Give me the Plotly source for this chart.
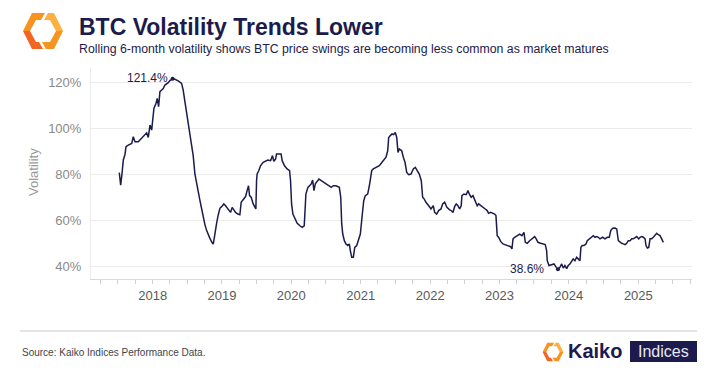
import plotly.graph_objects as go
import pandas as pd

# ---------------- data ----------------
# time as decimal years, volatility in %
t_years = [
    2017.519, 2017.539, 2017.558, 2017.577, 2017.601, 2017.616, 2017.649, 2017.698, 2017.721, 2017.745,
    2017.793, 2017.842, 2017.889, 2017.914, 2017.937, 2017.962, 2017.986, 2018.000, 2018.019, 2018.048,
    2018.066, 2018.086, 2018.105, 2018.130, 2018.153, 2018.177, 2018.202, 2018.225, 2018.249, 2018.288,
    2018.321, 2018.369, 2018.418, 2018.441, 2018.466, 2018.490, 2018.513, 2018.538, 2018.562, 2018.585,
    2018.610, 2018.634, 2018.657, 2018.682, 2018.706, 2018.729, 2018.754, 2018.778, 2018.802, 2018.826,
    2018.859, 2018.874, 2018.884, 2018.898, 2018.923, 2018.946, 2018.970, 2018.995,
    2019.027, 2019.052, 2019.075, 2019.099, 2019.124, 2019.147, 2019.172, 2019.196, 2019.229, 2019.258,
    2019.277, 2019.306, 2019.340, 2019.363, 2019.383, 2019.398, 2019.421, 2019.450, 2019.474, 2019.489,
    2019.499, 2019.507, 2019.532, 2019.556, 2019.594, 2019.629, 2019.662, 2019.701, 2019.729, 2019.748,
    2019.773, 2019.787, 2019.820, 2019.853, 2019.868, 2019.902, 2019.940, 2019.975, 2019.989,
    2020.004, 2020.023, 2020.048, 2020.085, 2020.124, 2020.157, 2020.186, 2020.196, 2020.210, 2020.239,
    2020.268, 2020.287, 2020.307, 2020.326, 2020.345, 2020.373, 2020.398, 2020.431, 2020.470, 2020.509,
    2020.542, 2020.575, 2020.604, 2020.643, 2020.691, 2020.711, 2020.725, 2020.740, 2020.763, 2020.787,
    2020.812, 2020.835, 2020.849, 2020.869, 2020.892, 2020.913, 2020.941, 2020.970, 2020.993,
    2021.017, 2021.042, 2021.065, 2021.099, 2021.123, 2021.157, 2021.180, 2021.219, 2021.267, 2021.306,
    2021.339, 2021.363, 2021.388, 2021.402, 2021.425, 2021.450, 2021.474, 2021.497, 2021.518, 2021.536,
    2021.555, 2021.590, 2021.613, 2021.637, 2021.662, 2021.691, 2021.724, 2021.757, 2021.786, 2021.814,
    2021.843, 2021.872, 2021.892, 2021.915, 2021.940, 2021.979,
    2022.012, 2022.045, 2022.065, 2022.094, 2022.123, 2022.156, 2022.180, 2022.209, 2022.242, 2022.281,
    2022.304, 2022.329, 2022.353, 2022.376, 2022.401, 2022.425, 2022.448, 2022.458, 2022.487, 2022.520,
    2022.545, 2022.569, 2022.592, 2022.617, 2022.642, 2022.679, 2022.699, 2022.728, 2022.761, 2022.794,
    2022.823, 2022.843, 2022.872, 2022.905, 2022.930, 2022.949, 2022.959, 2022.967, 2022.987,
    2023.017, 2023.050, 2023.084, 2023.123, 2023.161, 2023.180, 2023.195, 2023.219, 2023.257, 2023.291,
    2023.324, 2023.353, 2023.372, 2023.401, 2023.435, 2023.469, 2023.507, 2023.530, 2023.555, 2023.594,
    2023.627, 2023.660, 2023.680, 2023.689, 2023.714, 2023.747, 2023.786, 2023.819, 2023.843, 2023.872,
    2023.897, 2023.920, 2023.944, 2023.969, 2023.991,
    2024.016, 2024.040, 2024.063, 2024.088, 2024.112, 2024.136, 2024.160, 2024.174, 2024.193, 2024.218,
    2024.247, 2024.265, 2024.294, 2024.329, 2024.352, 2024.376, 2024.401, 2024.424, 2024.448, 2024.487,
    2024.520, 2024.554, 2024.582, 2024.603, 2024.631, 2024.665, 2024.689, 2024.712, 2024.737, 2024.761,
    2024.784, 2024.809, 2024.833, 2024.856, 2024.881, 2024.905, 2024.928, 2024.953, 2024.977,
    2025.006, 2025.025, 2025.049, 2025.072, 2025.097, 2025.111, 2025.130, 2025.150, 2025.169, 2025.193,
    2025.216, 2025.241, 2025.265, 2025.288, 2025.313, 2025.337, 2025.360,
]
vol_pct = [
    80.6, 75.2, 80.0, 86.1, 88.5, 91.9, 92.6, 93.3, 96.2, 94.0,
    94.0, 95.5, 97.4, 97.9, 95.9, 101.3, 99.1, 104.9, 108.6, 110.7,
    112.9, 109.3, 115.8, 116.5, 117.2, 118.7, 119.1, 119.7, 120.6, 121.4,
    121.2, 120.5, 119.4, 116.5, 111.4, 106.4, 101.3, 97.7, 92.6, 88.0,
    80.0, 75.5, 72.0, 68.5, 65.0, 61.4, 58.0, 55.5, 53.3, 52.0,
    50.1, 49.5, 51.3, 54.9, 58.6, 62.2, 65.1, 65.8,
    67.0, 66.2, 65.2, 64.4, 63.3, 65.5, 64.4, 63.3, 62.6, 62.3,
    67.7, 69.1, 70.2, 72.8, 74.9, 70.6, 69.9, 67.0, 65.8, 64.8,
    77.1, 80.0, 81.5, 83.6, 85.1, 85.5, 86.1, 85.8, 88.0, 85.5,
    86.5, 88.7, 88.7, 88.7, 85.8, 83.6, 82.2, 81.5, 77.1,
    67.0, 62.6, 61.2, 58.6, 57.5, 56.8, 57.5, 64.1, 71.3, 74.2,
    74.9, 75.7, 77.4, 72.8, 75.7, 77.1, 77.8, 77.1, 76.4, 75.7,
    74.9, 74.2, 74.9, 74.9, 74.2, 69.9, 58.3, 53.9, 51.0, 49.6,
    48.9, 49.6, 46.7, 43.8, 43.8, 48.1, 48.9, 51.8, 53.9,
    61.2, 68.4, 70.6, 71.3, 74.9, 81.5, 82.2, 82.9, 83.6, 85.1,
    86.5, 87.3, 90.1, 95.9, 96.7, 97.4, 97.1, 98.1, 95.9, 89.4,
    90.9, 90.1, 87.3, 85.1, 80.7, 79.7, 80.0, 82.2, 82.9, 81.5,
    80.0, 77.1, 69.9, 69.1, 67.7, 66.2,
    64.8, 66.2, 63.3, 62.6, 64.1, 64.8, 67.0, 67.7, 65.5, 64.4,
    64.1, 63.3, 65.8, 67.0, 66.2, 64.8, 66.2, 70.6, 71.3, 71.0,
    72.8, 71.0, 69.9, 70.6, 69.1, 66.2, 67.0, 66.2, 65.5, 64.8,
    64.1, 62.9, 63.3, 62.9, 62.6, 61.9, 56.8, 53.2, 52.5,
    50.7, 49.6, 49.3, 48.9, 48.4, 47.4, 51.8, 52.5, 53.2, 53.9,
    53.2, 54.6, 50.3, 49.9, 51.0, 51.8, 52.8, 51.8, 50.3, 49.9,
    49.6, 49.3, 46.7, 42.3, 40.2, 40.6, 40.9, 39.4, 38.6, 39.4,
    40.9, 39.1, 40.2, 38.9, 40.2,
    40.9, 42.3, 43.1, 42.3, 43.8, 43.1, 42.3, 48.1, 48.9, 48.9,
    49.6, 51.0, 51.8, 52.5, 53.2, 52.5, 52.8, 52.5, 51.8, 52.5,
    51.8, 52.5, 52.5, 55.4, 56.4, 56.5, 56.1, 51.0, 50.3, 49.9,
    49.6, 49.3, 49.9, 51.0, 51.0, 51.8, 51.8, 52.5, 52.8,
    51.8, 52.5, 52.8, 52.5, 51.8, 48.9, 47.8, 48.1, 51.8, 51.8,
    52.5, 53.2, 54.2, 53.6, 53.2, 51.8, 50.3,
]
peak_year, peak_val = 2018.288, 121.4
trough_year, trough_val = 2023.843, 38.6
x_range_years = [2017.111, 2025.774]
y_range = [34.35, 126.1]
y_ticks = [40, 60, 80, 100, 120]
y_tick_labels = [f"{v}%" for v in y_ticks]

TITLE = "BTC Volatility Trends Lower"
SUBTITLE = "Rolling 6-month volatility shows BTC price swings are becoming less common as market matures"
SOURCE = "Source: Kaiko Indices Performance Data."


def dec_to_date(y):
    yr = int(y)
    start = pd.Timestamp(year=yr, month=1, day=1)
    end = pd.Timestamp(year=yr + 1, month=1, day=1)
    return start + (end - start) * (y - yr)


dates = [dec_to_date(v) for v in t_years]

NAVY = "#1c1b4d"
FONT = "Liberation Sans, Arial, sans-serif"

# plot-area geometry (pixels) for decorations
Wd, Ht = 708, 371
L, R, T, B = 91, 692, 68, 279
PW, PH = R - L, B - T


def pxx(x):
    return (x - L) / PW


def pxy(y):
    return (B - y) / PH


fig = go.Figure()
fig.add_trace(go.Scatter(
    x=dates, y=vol_pct, mode="lines",
    line=dict(color=NAVY, width=1.5), hoverinfo="skip", showlegend=False,
))
fig.add_trace(go.Scatter(
    x=[dec_to_date(peak_year), dec_to_date(trough_year)], y=[peak_val, trough_val],
    mode="markers", marker=dict(color=NAVY, size=4), hoverinfo="skip", showlegend=False,
))

annotations = [
    dict(x=dec_to_date(peak_year), y=peak_val, xref="x", yref="y", text=f"{peak_val}%",
         showarrow=False, xanchor="right", yanchor="middle", xshift=-3, yshift=1,
         font=dict(size=12, color=NAVY, family=FONT)),
    dict(x=dec_to_date(trough_year), y=trough_val, xref="x", yref="y", text=f"{trough_val}%",
         showarrow=False, xanchor="right", yanchor="middle", xshift=-12, yshift=0,
         font=dict(size=12, color=NAVY, family=FONT)),
    dict(x=pxx(77), y=pxy(27), xref="paper", yref="paper", text=f"<b>{TITLE}</b>",
         showarrow=False, xanchor="left", yanchor="middle",
         font=dict(size=23, color=NAVY, family=FONT)),
    dict(x=pxx(77), y=pxy(48.5), xref="paper", yref="paper", text=SUBTITLE,
         showarrow=False, xanchor="left", yanchor="middle",
         font=dict(size=12.3, color=NAVY, family=FONT)),
    dict(x=pxx(33), y=pxy(172), xref="paper", yref="paper", text="Volatility",
         showarrow=False, xanchor="center", yanchor="middle", textangle=-90,
         font=dict(size=13, color="#9a9a9a", family=FONT)),
    dict(x=pxx(20), y=pxy(352), xref="paper", yref="paper", text=SOURCE,
         showarrow=False, xanchor="left", yanchor="middle",
         font=dict(size=10, color="#444444", family=FONT)),
    dict(x=pxx(566), y=pxy(351), xref="paper", yref="paper", text="<b>Kaiko</b>",
         showarrow=False, xanchor="left", yanchor="middle",
         font=dict(size=20, color=NAVY, family=FONT)),
    dict(x=pxx(663.5), y=pxy(351.5), xref="paper", yref="paper", text="Indices",
         showarrow=False, xanchor="center", yanchor="middle",
         font=dict(size=16, color="#e8e8f0", family=FONT)),
]

shapes = [
    dict(type="line", xref="paper", yref="paper", x0=pxx(20), x1=pxx(697), y0=pxy(331), y1=pxy(331),
         line=dict(color="#c8c8c8", width=1)),
    dict(type="rect", xref="paper", yref="paper", x0=pxx(630), x1=pxx(697), y0=pxy(362), y1=pxy(341),
         fillcolor=NAVY, line=dict(width=0)),
]

# Kaiko icon: four ribbon pieces of a hexagon (relative pixel coords)
icon_parts = [
    ([(2, -18), (-11, -18), (-20, 0), (-13, 0), (-7, -11), (-2, -11)], "#F7931E"),
    ([(-20, 0), (-11, 18), (0, 18), (-4, 11), (-7, 11), (-13, 0)], "#F26522"),
    ([(5, -18), (11, -18), (20, 0), (13, 0), (7, -11), (1, -11)], "#FBB040"),
    ([(20, 0), (11, 18), (3, 18), (-1, 11), (7, 11), (13, 0)], "#F7941D"),
]


def add_icon(cx, cy, s):
    for pts, col in icon_parts:
        path = "M " + " L ".join(f"{pxx(cx + dx * s):.5f},{pxy(cy + dy * s):.5f}" for dx, dy in pts) + " Z"
        shapes.append(dict(type="path", xref="paper", yref="paper", path=path,
                           fillcolor=col, line=dict(width=0)))


add_icon(43, 31, 1.0)
add_icon(553, 352, 0.52)

fig.update_layout(
    width=Wd, height=Ht,
    margin=dict(l=L, r=Wd - R, t=T, b=Ht - B, autoexpand=False),
    paper_bgcolor="white", plot_bgcolor="white",
    font=dict(family=FONT),
    annotations=annotations, shapes=shapes,
    xaxis=dict(
        type="date", range=[dec_to_date(x_range_years[0]), dec_to_date(x_range_years[1])],
        tick0="2018-01-01", dtick="M12", tickformat="%Y",
        ticks="outside", ticklen=4, tickcolor="#d0d0d0", tickwidth=1,
        showgrid=False, zeroline=False, showline=True, linecolor="#d9d9d9", linewidth=1,
        tickfont=dict(size=13, color="#595959", family=FONT),
        minor=dict(dtick="M3", tick0="2018-01-01", ticks="outside", ticklen=4,
                   tickcolor="#d0d0d0", showgrid=False),
        fixedrange=True,
    ),
    yaxis=dict(
        range=y_range, tickmode="array", tickvals=y_ticks, ticktext=y_tick_labels,
        showgrid=True, gridcolor="#ececec", gridwidth=1, zeroline=False,
        showline=True, linecolor="#ececec", linewidth=1, ticks="",
        tickfont=dict(size=13, color="#8a8a8a", family=FONT), ticklabelstandoff=6,
        fixedrange=True,
    ),
)

fig.write_html(
    "out.html",
    config={"displayModeBar": False, "staticPlot": True},
    post_script="document.body.style.margin='0';document.body.style.overflow='hidden';",
)
